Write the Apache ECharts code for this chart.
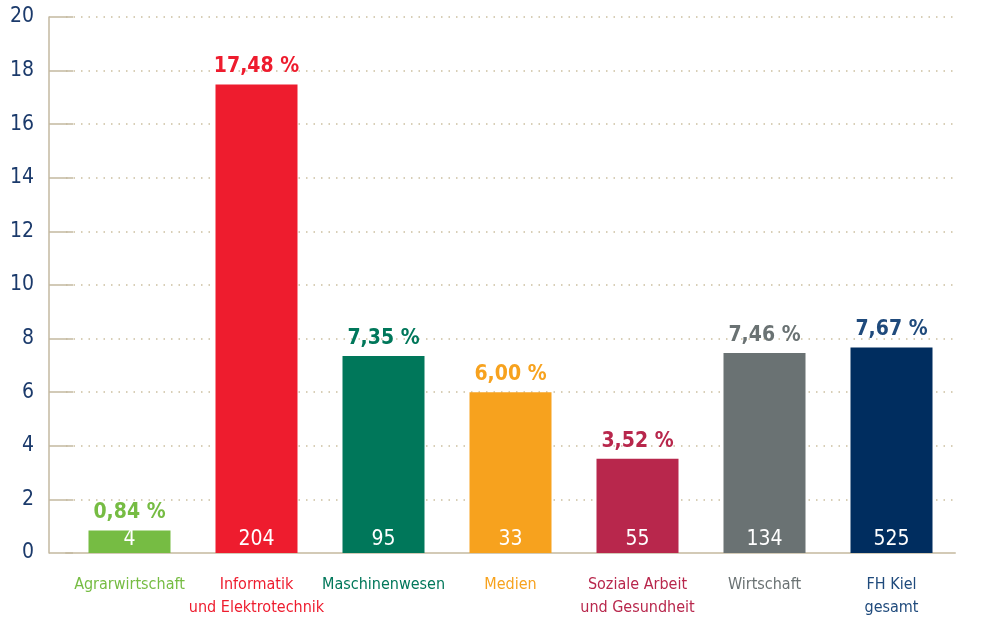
<!DOCTYPE html>
<html>
<head>
<meta charset="utf-8">
<script src="https://cdn.jsdelivr.net/npm/echarts@6/dist/echarts.min.js"></script>
<style>
  html, body { margin: 0; padding: 0; background: #fff; }
  #chart { width: 982px; height: 622px; }
</style>
</head>
<body>
<div id="chart"></div>
<script>
const categories = ['Agrarwirtschaft', 'Informatik\nund Elektrotechnik', 'Maschinenwesen', 'Medien', 'Soziale Arbeit\nund Gesundheit', 'Wirtschaft', 'FH Kiel\ngesamt'];
const percentValues = [0.84, 17.48, 7.35, 6.00, 3.52, 7.46, 7.67];
const countValues = [4, 204, 95, 33, 55, 134, 525];
const barColors = ['#76bc43', '#ee1c2e', '#00775a', '#f7a21e', '#b8274c', '#6a7273', '#002d5f'];
const labelColors = ['#76bc43', '#ee1c2e', '#00775a', '#f7a21e', '#b8274c', '#6a7273', '#1f4a7c'];
const yTicks = [0, 2, 4, 6, 8, 10, 12, 14, 16, 18, 20];

const fontFamily = '"DejaVu Sans Condensed", "Noto Sans", sans-serif';
const chart = echarts.init(document.getElementById('chart'));

// rich styles, one per category, so each axis label gets its own colour
const richStyles = {};
labelColors.forEach((c, i) => {
    richStyles['c' + i] = { color: c, fontFamily: fontFamily, fontSize: 16, lineHeight: 23 };
});

const option = {
    backgroundColor: '#fff',
    animation: false,
    grid: {
        top: 17,
        bottom: 69,
        left: 66,
        right: 27
    },
    xAxis: {
        type: 'category',
        data: categories,
        axisLine: { show: true, lineStyle: { color: '#d3cab6', width: 2 } },
        axisTick: { show: false },
        axisLabel: {
            interval: 0,
            margin: 20,
            formatter: function (value) {
                const i = categories.indexOf(value);
                return value.split('\n').map(line => '{c' + i + '|' + line + '}').join('\n');
            },
            rich: richStyles
        }
    },
    yAxis: {
        type: 'value',
        min: yTicks[0],
        max: yTicks[yTicks.length - 1],
        interval: 2,
        offset: 17,
        axisLine: { show: true, lineStyle: { color: '#c3b9a0', width: 1.5 } },
        axisTick: { show: true, inside: true, length: 24, lineStyle: { color: '#c3b9a0', width: 1.5 } },
        axisLabel: {
            margin: 15,
            fontFamily: fontFamily,
            fontSize: 21,
            color: '#1b3a6b'
        },
        splitLine: { show: true, lineStyle: { color: '#cbbf9f', type: [1.5, 6], width: 1.5 } }
    },
    series: [{
        type: 'bar',
        barWidth: 82,
        data: percentValues.map((v, i) => ({
            value: v,
            itemStyle: { color: barColors[i] },
            label: { color: labelColors[i] }
        })),
        label: {
            show: true,
            position: 'top',
            distance: 7,
            fontFamily: fontFamily,
            fontSize: 21,
            fontWeight: 'bold',
            formatter: p => p.value.toFixed(2).replace('.', ',') + ' %'
        }
    }, {
        type: 'bar',
        barWidth: 82,
        barGap: '-100%',
        silent: true,
        itemStyle: { color: 'rgba(0,0,0,0)' },
        data: percentValues,
        label: {
            show: true,
            position: 'insideBottom',
            distance: 3,
            fontFamily: fontFamily,
            fontSize: 21,
            color: '#fff',
            formatter: p => String(countValues[p.dataIndex])
        }
    }]
};

chart.setOption(option);
</script>
</body>
</html>
